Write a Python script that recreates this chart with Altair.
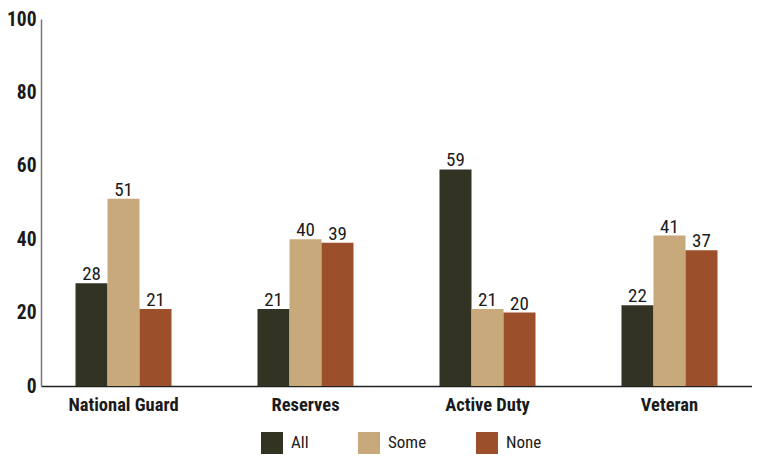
import altair as alt
import pandas as pd

categories = ["National Guard", "Reserves", "Active Duty", "Veteran"]
series = ["All", "Some", "None"]
all_vals = [28, 21, 59, 22]
some_vals = [51, 40, 21, 41]
none_vals = [21, 39, 20, 37]
colors = ["#333324", "#C8A97B", "#9B4F2B"]

rows = []
for i, c in enumerate(categories):
    for s, vals in zip(series, [all_vals, some_vals, none_vals]):
        rows.append({"category": c, "series": s, "value": vals[i]})
df = pd.DataFrame(rows)

FONT = "Roboto Condensed, Roboto, sans-serif"

x = alt.X("category:N", sort=categories, title=None,
          scale=alt.Scale(paddingInner=0.4725, paddingOuter=0.1896, align=0.5),
          axis=alt.Axis(labelAngle=0, labelFontSize=18.5, labelFontWeight="bold",
                        labelColor="#1a1a1a", ticks=False, labelPadding=9,
                        domainColor="#222222", domainWidth=1.5, labelFont=FONT))
y = alt.Y("value:Q", title=None,
          scale=alt.Scale(domain=[0, 100]),
          axis=alt.Axis(values=[0, 20, 40, 60, 80, 100], grid=False, ticks=False,
                        labelFontSize=19.5, labelFontWeight="bold", labelColor="#1a1a1a",
                        labelPadding=5, domainColor="#777777", domainWidth=1.5,
                        labelFont=FONT))
xo = alt.XOffset("series:N", sort=series)

bars = alt.Chart(df).mark_bar().encode(
    x=x, y=y, xOffset=xo,
    color=alt.Color("series:N", sort=series,
                    scale=alt.Scale(domain=series, range=colors),
                    legend=alt.Legend(orient="none", legendX=220, legendY=413,
                                      title=None, direction="horizontal",
                                      symbolType="square", symbolSize=484,
                                      symbolStrokeWidth=0, symbolOpacity=1,
                                      labelFontSize=17, labelFont=FONT,
                                      labelColor="#1a1a1a", columnPadding=49,
                                      labelOffset=8)),
)

text = alt.Chart(df).mark_text(baseline="alphabetic", dy=-3, fontSize=19, font=FONT,
                               color="#1a1a1a").encode(
    x=x, y=y, xOffset=xo, text="value:Q"
)

chart = (bars + text).properties(
    width=711, height=367,
    autosize=alt.AutoSizeParams(type="none"),
    padding={"left": 33, "top": 11, "right": 0, "bottom": 68},
).configure_view(stroke=None)

chart.save("out.html", embed_options={"renderer": "svg", "actions": False})
